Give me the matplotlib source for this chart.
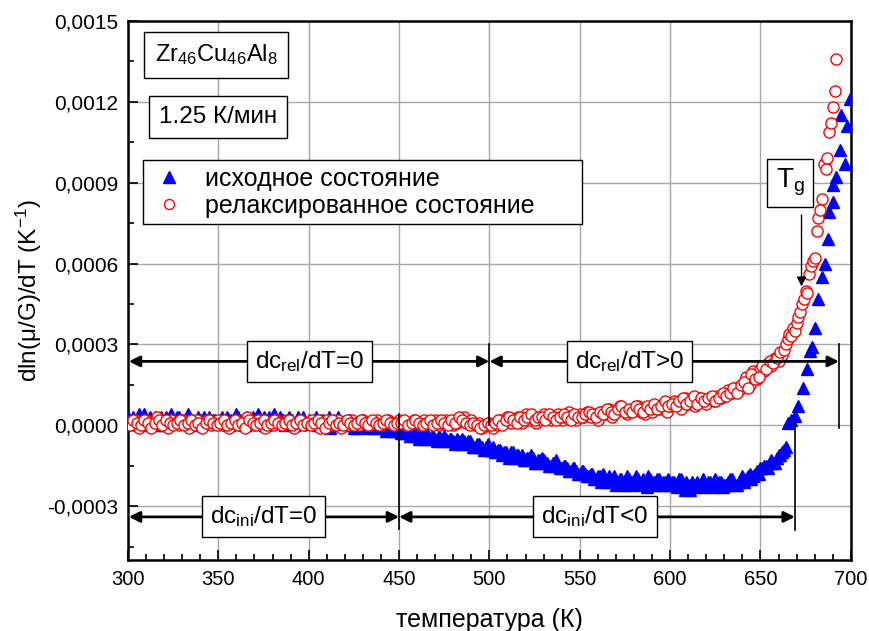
import numpy as np
import matplotlib
matplotlib.use("Agg")
import matplotlib.pyplot as plt
from matplotlib.ticker import MultipleLocator, FuncFormatter

plt.rcParams['font.family'] = ['Liberation Sans', 'DejaVu Sans']
plt.rcParams['mathtext.fontset'] = 'custom'
plt.rcParams['mathtext.rm'] = 'Liberation Sans'
plt.rcParams['mathtext.it'] = 'Liberation Sans'
plt.rcParams['mathtext.default'] = 'regular'

# initial state, values in 1e-5 1/K
# even temperatures 300..664
ini_even = [3, 1, 2, 4, 0, 2, 3, 1, 2, 3, 0, 2, 4, 1, 3, 2, 1, 3, 2, 0, 2, 3, 1, 2, 2,
            1, 3, 2, 0, 2, 4, 1, 2, 3, 1, 2, 4, 2, 0, 3, 2, 1, 3, 2, 1, 2, 0, 3, 2, 1,
            2, 1, 3, 0, 2, 1, -1, 2, 3, 1, 0, 2, 1, -1, 1, 2, 0, 1, -1, 0, 1, -1, 0, -2, -1,
            -2, -3, -2, -4, -3, -4, -3, -5, -4, -4, -5, -4, -6, -5, -5, -6, -5, -7, -6, -6, -7, -8, -7, -8, -8,
            -9, -8, -10, -9, -10, -11, -10, -12, -11, -11, -13, -12, -12, -14, -13, -13, -14, -15, -14, -15, -16, -15, -17, -16, -17,
            -18, -17, -19, -18, -20, -19, -21, -20, -19, -21, -22, -20, -21, -19, -22, -21, -20, -22, -21, -19, -21, -22, -20, -21, -22,
            -22, -21, -23, -20, -24, -22, -21, -23, -22, -20, -22, -21, -23, -22, -21, -22, -21, -20, -22, -21, -19, -20, -18, -19, -17,
            -16, -15, -16, -13, -14, -11, -10, -8]
# odd temperatures 301..663
ini_odd = [2, 3, 1, 2, 4, 1, 2, 3, 2, 0, 3, 1, 2, 3, 1, 2, 4, 2, 1, 3, 2, 1, 3, 2, 1,
           2, 1, 3, 2, 1, 3, 2, 0, 2, 3, 1, 2, 3, 1, 2, 4, 1, 2, 0, 3, 2, 1, 2, 3, 1,
           1, 2, 0, 2, 1, 3, 0, 1, 2, 0, 1, 2, -1, 0, 1, 0, -1, 1, 0, -1, 0, -2, -1, 0, -2,
           -3, -2, -3, -4, -3, -5, -4, -3, -5, -4, -6, -5, -4, -6, -5, -7, -6, -5, -7, -6, -8, -7, -8, -9, -7,
           -9, -10, -9, -11, -10, -12, -10, -11, -12, -13, -12, -11, -14, -13, -12, -14, -15, -14, -13, -16, -15, -16, -17, -16, -18,
           -17, -18, -19, -18, -20, -19, -18, -21, -20, -19, -21, -20, -22, -20, -21, -19, -21, -20, -23, -20, -21, -20, -22, -21, -20,
           -21, -22, -20, -23, -21, -24, -22, -21, -22, -23, -21, -22, -20, -21, -23, -22, -20, -21, -22, -20, -21, -19, -20, -18, -18,
           -16, -15, -14, -14, -12, -11, -9]
ini_T_tail = [665.3, 667.0, 669.0, 671.0, 673.6, 675.5, 677.3, 678.5, 680.0, 682.0, 684.0, 685.6,
              687.5, 688.0, 690.2, 689.9, 692.0, 694.0, 697.0, 694.5, 697.7, 699.5]
ini_tail = [1, 2, 3.5, 7, 14, 21, 27.5, 29, 36, 47, 55, 60,
            69, 79, 83, 89, 92, 102, 97, 115, 111, 121]

# relaxed state
# even temperatures 300..662
rel_even = [1, 0, 2, -1, 1, 2, 0, 1, 3, 0, 1, -1, 2, 1, 0, 2, 1, -1, 1, 2, 0, 1, 2, 0, 1,
            2, 0, 1, -1, 1, 2, 0, 1, 3, 1, 0, 2, 1, -1, 1, 0, 2, 1, 0, 2, 1, -1, 1, 2, 0,
            1, 2, 0, -1, 1, 2, 0, 1, 2, -1, 1, 0, 2, 1, 0, 2, 1, 0, 1, 2, 0, 1, 2, 1, 0,
            2, 1, 0, 1, 2, 1, 0, 2, 1, 1, 2, 0, 1, 2, 1, 0, 1, 2, 3, 1, 2, 0, 1, -1, 0,
            1, -1, 0, 2, 1, 3, 1, 2, 3, 1, 4, 2, 3, 1, 2, 4, 3, 2, 3, 4, 2, 3, 5, 3, 2,
            4, 3, 5, 3, 4, 2, 5, 4, 6, 3, 5, 7, 6, 4, 5, 6, 7, 5, 4, 6, 5, 7, 6, 8, 5,
            7, 9, 8, 6, 10, 8, 9, 7, 10, 9, 8, 10, 9, 11, 10, 11, 13, 12, 14, 13, 14, 18, 15, 20, 17,
            21, 20, 23, 22, 25, 24, 26]
# odd temperatures 301..661
rel_odd = [0, 2, 1, 0, 2, 1, -1, 1, 2, 0, 2, 1, 0, 1, 2, 0, 1, 2, 0, 1, -1, 1, 2, 1, 0,
           1, 2, 0, 1, 2, 0, 1, -1, 2, 1, 0, 1, 2, 0, 1, 2, 1, 0, 1, 2, 0, 1, 2, 0, 1,
           0, 1, 2, 1, -1, 1, 2, 0, 1, 0, 2, 1, 0, 1, 2, 1, 0, 2, 1, 0, 1, 2, 1, 0, 1,
           1, 2, 0, 1, 2, 1, 0, 1, 2, 0, 1, 2, 1, 0, 2, 1, 3, 2, 1, 0, 1, 0, -1, 0, 1,
           0, 1, 2, 0, 2, 3, 2, 1, 3, 2, 3, 4, 2, 3, 3, 2, 4, 3, 2, 3, 4, 3, 2, 4, 3,
           3, 4, 5, 4, 3, 5, 4, 6, 5, 4, 6, 7, 5, 6, 5, 7, 6, 5, 7, 6, 8, 6, 7, 9, 7,
           8, 7, 9, 10, 8, 9, 11, 8, 10, 9, 10, 11, 9, 10, 12, 11, 12, 14, 12, 15, 16, 14, 19, 17, 18,
           22, 21, 24, 23, 25, 27]
rel_T_tail = [663, 664, 665, 666, 667, 668, 669, 670, 671, 672, 673, 674, 675, 676, 677, 678, 679,
              680, 681, 682, 683, 684, 685, 686, 687, 688, 689, 690, 691, 692]
rel_tail = [28, 30, 32, 34, 33, 36, 35, 38, 40, 42, 45, 47, 50, 49, 56, 59, 61,
            62, 72, 77, 80, 84, 97, 95, 99, 109, 112, 118, 124, 136]

T_ini = np.concatenate([np.arange(300, 665, 2), np.arange(301, 664, 2), ini_T_tail])
y_ini = np.array(ini_even + ini_odd + ini_tail) * 1e-5
T_rel = np.concatenate([np.arange(300, 663, 2), np.arange(301, 662, 2), rel_T_tail])
y_rel = np.array(rel_even + rel_odd + rel_tail) * 1e-5

fig = plt.figure(figsize=(8.7, 6.31), dpi=100)
ax = fig.add_axes([0.1471, 0.1125, 0.8309, 0.8542])

ax.plot(T_ini, y_ini, '^', color='blue', ms=9, mec='blue', ls='none',
        label='исходное состояние', zorder=3)
ax.plot(T_rel, y_rel, 'o', mfc='white', mec='red', mew=1, ms=8, ls='none',
        label='релаксированное состояние', zorder=4)

ax.set_xlim(300, 700)
ax.set_ylim(-0.0005, 0.0015)
ax.xaxis.set_major_locator(MultipleLocator(50))
ax.xaxis.set_minor_locator(MultipleLocator(10))
ax.yaxis.set_major_locator(MultipleLocator(0.0003))
ax.yaxis.set_minor_locator(MultipleLocator(0.00015))
ax.yaxis.set_major_formatter(FuncFormatter(lambda v, p: ('%.4f' % v).replace('.', ',').replace('-0,0000', '0,0000')))
ax.tick_params(which='both', direction='in', width=1.2)
ax.tick_params(axis='x', labelsize=14.5)
ax.tick_params(axis='y', labelsize=15)
ax.tick_params(which='major', length=7, pad=7)
ax.tick_params(which='minor', length=4)
ax.grid(True, which='major', color='#a8a8a8', lw=1)
ax.set_axisbelow(True)
for s in ax.spines.values():
    s.set_linewidth(1.8)

ax.set_xlabel('температура (К)', fontsize=18, labelpad=14)
ax.set_ylabel('dln(μ/G)/dT (K$^{-1}$)', fontsize=17.5, labelpad=2)

ax.text(0.1217, 0.937, 'Zr$_{46}$Cu$_{46}$Al$_{8}$', transform=ax.transAxes,
        fontsize=17, ha='center', va='center',
        bbox=dict(boxstyle='square,pad=0.45', fc='white', ec='black', lw=1))
ax.text(0.1245, 0.8216, '1.25 К/мин', transform=ax.transAxes,
        fontsize=17.5, ha='center', va='center',
        bbox=dict(boxstyle='square,pad=0.4', fc='white', ec='black', lw=1))

leg = ax.legend(loc='upper left', bbox_to_anchor=(0.0207, 0.6, 0.607, 0.1416), mode='expand',
                borderaxespad=0, fontsize=18, frameon=True, fancybox=False, edgecolor='black',
                framealpha=1, handletextpad=0.7, borderpad=0.25, labelspacing=0.12,
                handlelength=1.55, markerscale=0.9)
leg.get_frame().set_linewidth(1)

# horizontal ranges with double arrows
arr = dict(arrowstyle='<|-|>', color='black', lw=2, mutation_scale=16, shrinkA=0, shrinkB=0)
ax.annotate('', xy=(300.5, 0.000237), xytext=(500, 0.000237), arrowprops=arr, zorder=5)
ax.annotate('', xy=(500, 0.000237), xytext=(693.4, 0.000237), arrowprops=arr, zorder=5)
ax.annotate('', xy=(300.5, -0.00034), xytext=(450, -0.00034), arrowprops=arr, zorder=5)
ax.annotate('', xy=(450, -0.00034), xytext=(669, -0.00034), arrowprops=arr, zorder=5)
ax.plot([500, 500], [0.0003, 0.0], color='black', lw=1.2, zorder=5)
ax.plot([693.4, 693.4], [0.0003, -0.00001], color='black', lw=1.2, zorder=5)
ax.plot([450, 450], [0.00004, -0.000385], color='black', lw=1.2, zorder=5)
ax.plot([669, 669], [0.00001, -0.00039], color='black', lw=1.2, zorder=5)

lbl = dict(fontsize=17.5, ha='center', va='center', zorder=6,
           bbox=dict(boxstyle='square,pad=0.33', fc='white', ec='black', lw=1))
ax.text(400.5, 0.000237, 'dc$_{rel}$/dT=0', **lbl)
ax.text(577.5, 0.000237, 'dc$_{rel}$/dT>0', **lbl)
ax.text(375, -0.00034, 'dc$_{ini}$/dT=0', **lbl)
ax.text(558.5, -0.00034, 'dc$_{ini}$/dT<0', **lbl)

# glass transition marker
ax.text(666.3, 0.0009, 'T$_g$', fontsize=20, ha='center', va='center', zorder=6,
        bbox=dict(boxstyle='square,pad=0.3', fc='white', ec='black', lw=1))
ax.annotate('', xy=(672.7, 0.000515), xytext=(672.7, 0.00078),
            arrowprops=dict(arrowstyle='-|>', color='black', lw=1, mutation_scale=14,
                            shrinkA=0, shrinkB=0), zorder=6)

fig.savefig('out.png', dpi=100)
